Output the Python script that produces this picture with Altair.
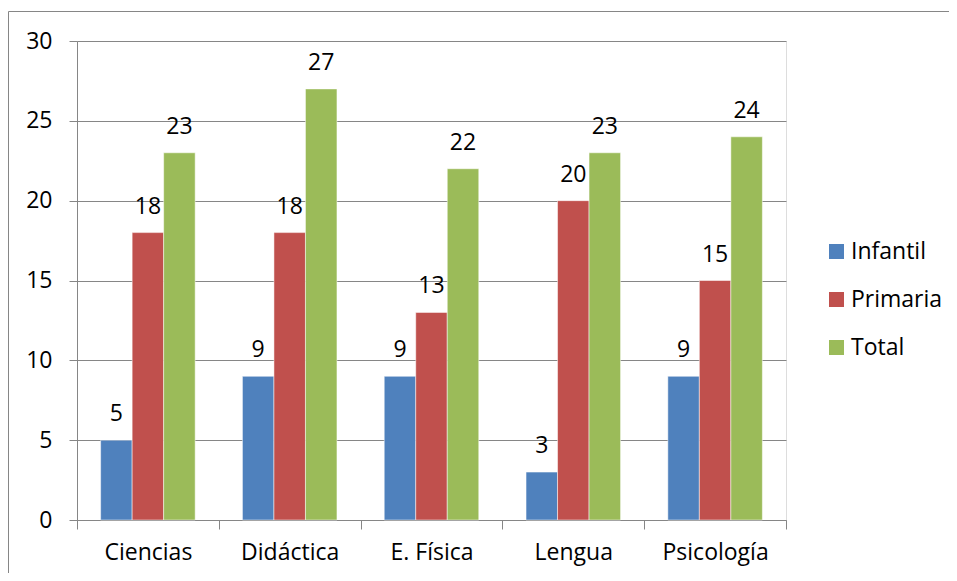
import altair as alt
import pandas as pd

categories = ["Ciencias", "Didáctica", "E. Física", "Lengua", "Psicología"]
series = ["Infantil", "Primaria", "Total"]
infantil = [5, 9, 9, 3, 9]
primaria = [18, 18, 13, 20, 15]
total = [23, 27, 22, 23, 24]
colors = ["#4F81BD", "#C0504D", "#9BBB59"]
y_ticks = [0, 5, 10, 15, 20, 25, 30]

rows = []
for s, vals in zip(series, [infantil, primaria, total]):
    for c, v in zip(categories, vals):
        rows.append({"cat": c, "serie": s, "valor": v})
df = pd.DataFrame(rows)

W, H = 709, 479
FONT = "Open Sans"
GRAY = "#868686"

x_enc = alt.X("cat:N", sort=categories, title=None,
              scale=alt.Scale(paddingInner=0, paddingOuter=0),
              axis=alt.Axis(labelAngle=0, tickBand="extent", domainColor=GRAY,
                            tickColor=GRAY, tickSize=9, labelPadding=12,
                            labelFontSize=23, labelFont=FONT, labelColor="black",
                            grid=False))
xoff = alt.XOffset("serie:N", sort=series,
                   scale=alt.Scale(paddingInner=0, paddingOuter=0.75))
y_enc = alt.Y("valor:Q", title=None,
              scale=alt.Scale(domain=[0, 30], nice=False),
              axis=alt.Axis(values=y_ticks, grid=True, gridColor=GRAY,
                            domainColor=GRAY, tickColor=GRAY, tickSize=8,
                            labelPadding=17, labelFontSize=23, labelFont=FONT,
                            labelColor="black"))
color_enc = alt.Color("serie:N", sort=series,
                      scale=alt.Scale(domain=series, range=colors),
                      legend=alt.Legend(title=None, orient="none",
                                        legendX=748, legendY=199,
                                        symbolType="square", symbolSize=225,
                                        symbolStrokeWidth=0, labelFontSize=23,
                                        labelFont=FONT, labelColor="black",
                                        labelOffset=3, rowPadding=24, padding=0))

bars = alt.Chart(df).mark_bar(stroke="white", strokeWidth=0.5).encode(
    x=x_enc, xOffset=xoff, y=y_enc, color=color_enc)

labels = alt.Chart(df).mark_text(baseline="alphabetic", dy=-19, fontSize=23,
                                 font=FONT, color="black").encode(
    x=alt.X("cat:N", sort=categories),
    xOffset=alt.XOffset("serie:N", sort=series),
    y="valor:Q", text="valor:Q")

frame = alt.Data(values=[{}])
left_border = alt.Chart(frame).mark_rule(color=GRAY, strokeWidth=1).encode(
    x=alt.value(-68.5), y=alt.value(-29.5), y2=alt.value(H + 60))
top_border = alt.Chart(frame).mark_rule(color=GRAY, strokeWidth=1).encode(
    x=alt.value(-68.5), x2=alt.value(W + 170), y=alt.value(-29.5))

chart = alt.layer(bars, labels, left_border, top_border).properties(
    width=W, height=H,
    autosize=alt.AutoSizeParams(type="none"),
    padding={"left": 69, "top": 33, "right": 163, "bottom": 53},
).configure_view(stroke=None).configure(background="white")

chart.save("out.html", embed_options={"renderer": "svg", "actions": False})
